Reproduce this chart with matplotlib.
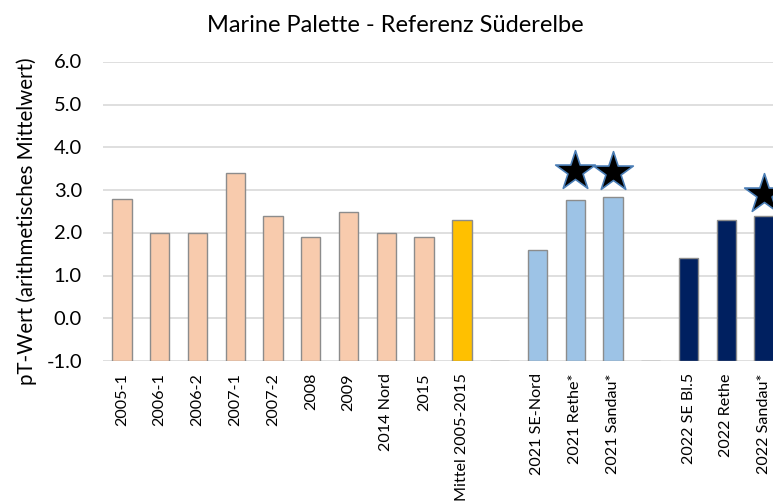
import numpy as np
import matplotlib
matplotlib.use('Agg')
import matplotlib.pyplot as plt

plt.rcParams['font.family'] = ['Lato', 'DejaVu Sans']
plt.rcParams['xtick.major.size'] = 0
plt.rcParams['ytick.major.size'] = 0
plt.rcParams['xtick.major.pad'] = 8

# Kategorien (leere Strings = Lücke zwischen den Gruppen)
categories = ['2005-1', '2006-1', '2006-2', '2007-1', '2007-2', '2008', '2009',
              '2014 Nord', '2015', 'Mittel 2005-2015', '',
              '2021 SE-Nord', '2021 Rethe*', '2021 Sandau*', '',
              '2022 SE Bl.5', '2022 Rethe', '2022 Sandau*']
values = [2.8, 2.0, 2.0, 3.4, 2.4, 1.9, 2.5, 2.0, 1.9, 2.31, np.nan,
          1.6, 2.78, 2.83, np.nan,
          1.4, 2.3, 2.39]
groups = ['ref'] * 9 + ['mean', 'gap', 'y2021', 'y2021', 'y2021', 'gap',
                         'y2022', 'y2022', 'y2022']
group_colors = {'ref': '#F8CBAD', 'mean': '#FFC000', 'y2021': '#9DC3E6',
                'y2022': '#002060', 'gap': 'none'}

# Sterne (markierte Stationen)
star_idx = [12, 13, 17]
star_y = [3.45, 3.43, 2.9]

y_ticks = [-1.0, 0.0, 1.0, 2.0, 3.0, 4.0, 5.0, 6.0]
y_min, y_max = -1.0, 6.0

fig = plt.figure(figsize=(7.73, 5.02), dpi=100)
ax = fig.add_axes([103 / 773, 140 / 502, 680 / 773, 299 / 502])

x = np.arange(len(categories))
heights = [v - y_min if not np.isnan(v) else 0 for v in values]
colors = [group_colors[g] for g in groups]
ax.bar(x, heights, bottom=y_min, width=0.51, color=colors,
       edgecolor='#8C8C8C', linewidth=1.0, zorder=3)

ax.scatter(star_idx, star_y, marker='*', s=900, color='black',
           edgecolor='#4A7DB5', linewidth=1.2, zorder=4, clip_on=False)

ax.set_xlim(-0.5, len(categories) - 0.5)
ax.set_ylim(y_min, y_max)
ax.set_yticks(y_ticks)
ax.tick_params(axis='y', labelleft=False)
# y-Beschriftungen als Text, rechtsbündig mit Abstand zur Achse
for t in y_ticks:
    ax.text(-0.031, t, f'{t:.1f}', transform=ax.get_yaxis_transform(),
            ha='right', va='center', fontsize=14.5)
ax.set_xticks(x)
ax.set_xticklabels(categories, rotation=90, fontsize=11.6, va='top')

ax.grid(axis='y', color='#D9D9D9', linewidth=1.2, zorder=0)
for s in ax.spines.values():
    s.set_visible(False)

ax.set_ylabel('pT-Wert (arithmetisches Mittelwert)', fontsize=14.8)
ax.yaxis.set_label_coords(-0.097, 0.47)
fig.text(0.512, 0.95, 'Marine Palette - Referenz Süderelbe', ha='center',
         va='center', fontsize=17)

fig.savefig('out.png', dpi=100)
